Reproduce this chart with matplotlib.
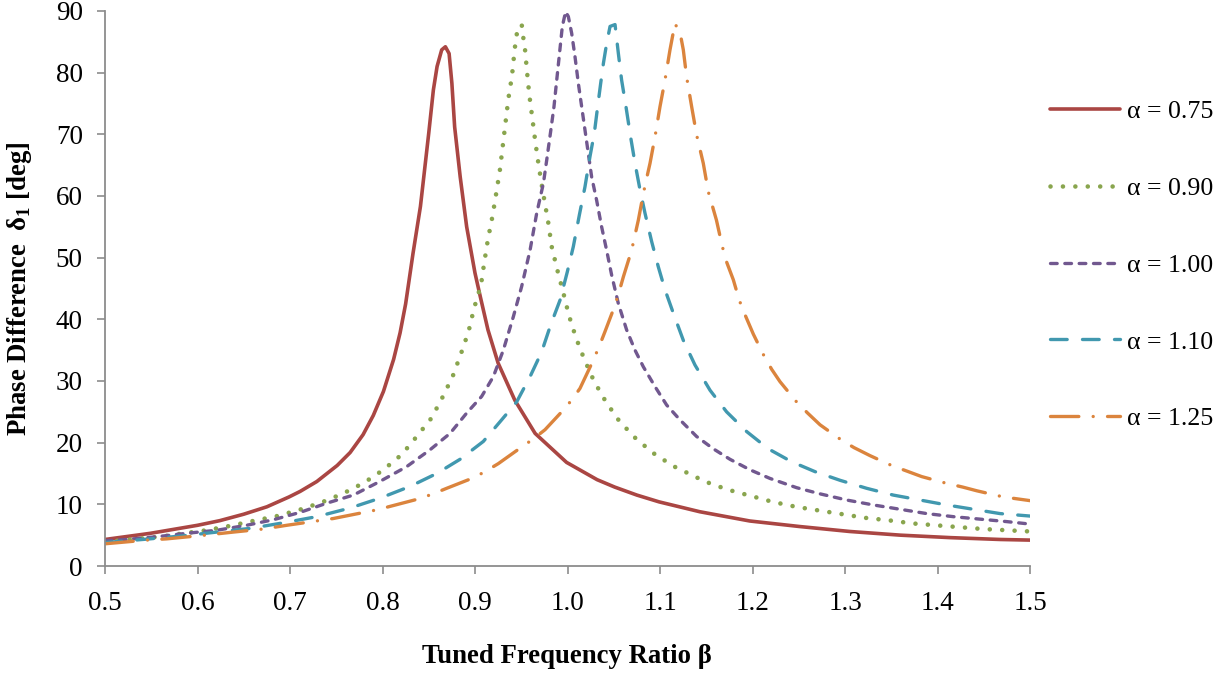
import matplotlib
matplotlib.use("Agg")
import matplotlib.pyplot as plt

# Tuned frequency ratio (beta) and phase difference (deg)
beta_075 = [0.500, 0.549, 0.600, 0.624, 0.650, 0.675, 0.699, 0.711, 0.729, 0.751,
            0.765, 0.779, 0.790, 0.801, 0.812, 0.819, 0.825, 0.833, 0.841, 0.850,
            0.855, 0.859, 0.864, 0.868, 0.872, 0.875, 0.878, 0.884, 0.891, 0.900,
            0.906, 0.914, 0.925, 0.943, 0.965, 0.999, 1.032, 1.051, 1.075, 1.099,
            1.143, 1.197, 1.251, 1.305, 1.360, 1.414, 1.468, 1.500]
delta_075 = [4.3, 5.3, 6.6, 7.35, 8.4, 9.6, 11.2, 12.1, 13.7, 16.3,
             18.4, 21.3, 24.4, 28.3, 33.5, 37.8, 42.5, 50.7, 58.3, 70.2,
             77.2, 81.0, 83.7, 84.2, 83.1, 78.3, 71.2, 63.1, 55.0, 47.5,
             43.5, 38.3, 32.9, 26.9, 21.5, 16.8, 14.0, 12.8, 11.5, 10.4,
             8.8, 7.3, 6.4, 5.6, 5.0, 4.6, 4.3, 4.2]

beta_090 = [0.500, 0.534, 0.560, 0.585, 0.610, 0.635, 0.660, 0.686, 0.710, 0.734,
            0.758, 0.780, 0.801, 0.821, 0.837, 0.853, 0.865, 0.876, 0.885, 0.893,
            0.899, 0.9065, 0.910, 0.914, 0.919, 0.923, 0.927, 0.930, 0.933, 0.936,
            0.940, 0.9425, 0.944, 0.946, 0.9505, 0.952, 0.954, 0.9562, 0.9587, 0.962,
            0.9652, 0.9688, 0.9728, 0.9793, 0.9829, 0.989, 0.9955, 1.0016, 1.0092, 1.0182,
            1.0286, 1.0416, 1.056, 1.0737, 1.0928, 1.1144, 1.1378, 1.1486, 1.1728, 1.1973,
            1.2218, 1.247, 1.2719, 1.2971, 1.3223, 1.3476, 1.3732, 1.3984, 1.4236, 1.4488,
            1.4748, 1.500]
delta_090 = [3.9, 4.4, 4.75, 5.3, 5.8, 6.5, 7.3, 8.1, 9.1, 10.3,
             11.8, 13.5, 15.6, 18.1, 21.0, 24.0, 27.4, 30.8, 34.5, 38.0,
             41.8, 45.6, 49.2, 53.0, 56.8, 60.5, 64.3, 68.1, 71.9, 75.7,
             79.5, 83.2, 85.2, 87.0, 87.8, 85.9, 83.9, 80.2, 76.4, 72.6,
             68.8, 65.0, 61.2, 55.6, 51.8, 48.0, 44.3, 40.6, 37.0, 33.5,
             30.0, 26.6, 23.5, 20.7, 18.3, 16.2, 14.5, 13.7, 12.4, 11.4,
             10.4, 9.6, 9.0, 8.4, 7.8, 7.4, 6.9, 6.6, 6.3, 6.0,
             5.8, 5.6]

beta_100 = [0.500, 0.5235, 0.556, 0.588, 0.621, 0.653, 0.682, 0.711, 0.740, 0.7685,
            0.797, 0.826, 0.851, 0.873, 0.891, 0.9072, 0.9198, 0.9306, 0.9414, 0.9504,
            0.9595, 0.9667, 0.974, 0.9775, 0.982, 0.9854, 0.988, 0.991, 0.9944, 0.998,
            1.0009, 1.0045, 1.0081, 1.0117, 1.0153, 1.0189, 1.0225, 1.0261, 1.0315, 1.0369,
            1.0423, 1.0477, 1.0549, 1.0639, 1.0730, 1.0820, 1.0946, 1.1072, 1.1216, 1.1396,
            1.1577, 1.1757, 1.1973, 1.2189, 1.2477, 1.273, 1.3018, 1.3306, 1.3595, 1.3883,
            1.4171, 1.4459, 1.4748, 1.500]
delta_100 = [4.1, 4.3, 4.75, 5.3, 5.8, 6.6, 7.5, 8.7, 10.2, 11.5,
             13.7, 16.1, 18.8, 21.5, 24.8, 27.5, 30.7, 35.0, 40.4, 45.3,
             51.2, 57.2, 62.1, 65.8, 70.7, 74.5, 78.3, 82.6, 87.5, 89.9,
             89.1, 86.4, 82.6, 78.3, 74.5, 70.7, 66.9, 63.1, 59.3, 55.0,
             51.2, 47.2, 42.6, 38.3, 35.0, 32.3, 29.1, 26.1, 23.7, 21.0,
             19.0, 17.3, 15.6, 14.2, 12.7, 11.7, 10.7, 9.9, 9.2, 8.5,
             8.0, 7.6, 7.2, 6.8]

beta_110 = [0.500, 0.5486, 0.5847, 0.6208, 0.6568, 0.6928, 0.7289, 0.7649, 0.7973, 0.8297,
            0.8586, 0.8838, 0.909, 0.9288, 0.945, 0.9595, 0.972, 0.9818, 0.9919, 0.9998,
            1.0063, 1.0128, 1.0189, 1.0243, 1.029, 1.0326, 1.0359, 1.0388, 1.0424, 1.046,
            1.0514, 1.055, 1.0585, 1.0632, 1.0682, 1.073, 1.0784, 1.0838, 1.0910, 1.0982,
            1.1054, 1.1144, 1.1252, 1.1378, 1.1541, 1.172, 1.1937, 1.2171, 1.2424, 1.2676,
            1.2946, 1.3234, 1.3522, 1.3811, 1.4099, 1.4387, 1.4676, 1.500]
delta_110 = [3.8, 4.4, 4.9, 5.5, 6.1, 7.0, 8.0, 9.4, 11.0, 12.9,
             15.0, 17.3, 20.2, 23.7, 26.6, 30.7, 34.7, 39.1, 43.1, 47.7,
             51.8, 56.9, 61.5, 66.4, 70.2, 74.5, 78.3, 81.5, 84.8, 87.5,
             87.8, 83.1, 78.8, 74.5, 69.6, 65.3, 61.0, 57.2, 52.6, 48.5,
             44.8, 41.0, 36.6, 32.6, 28.5, 25.0, 21.8, 19.0, 16.9, 15.3,
             13.9, 12.6, 11.5, 10.7, 9.9, 9.2, 8.5, 8.1]

beta_125 = [0.500, 0.545, 0.5667, 0.6081, 0.6387, 0.6712, 0.6964, 0.7468, 0.7937, 0.837,
            0.853, 0.8694, 0.8982, 0.9108, 0.9252, 0.9486, 0.963, 0.9757, 0.9937, 1.0045,
            1.0135, 1.0261, 1.034, 1.0405, 1.0514, 1.0557, 1.0604, 1.0693, 1.0766, 1.082,
            1.0856, 1.0892, 1.0946, 1.1, 1.1054, 1.1108, 1.1162, 1.1222, 1.1252, 1.1288,
            1.1342, 1.1396, 1.1468, 1.1522, 1.161, 1.1674, 1.172, 1.1793, 1.1857, 1.1926,
            1.2009, 1.2117, 1.2207, 1.2297, 1.2477, 1.2596, 1.273, 1.2964, 1.3097, 1.327,
            1.3504, 1.3667, 1.3829, 1.4099, 1.4272, 1.4424, 1.4712, 1.500]
delta_125 = [3.6, 4.2, 4.4, 5.0, 5.5, 6.0, 6.6, 7.7, 9.1, 10.8,
             11.6, 12.6, 14.3, 15.3, 16.6, 19.1, 20.6, 22.1, 25.0, 26.9,
             28.8, 32.8, 35.5, 38.0, 42.3, 44.4, 46.9, 51.2, 56.1, 60.4,
             62.9, 65.3, 69.6, 74.5, 78.8, 83.7, 88.0, 86.1, 83.7, 79.3,
             74.5, 69.9, 65.3, 60.7, 56.1, 51.8, 49.3, 46.4, 43.1, 40.5,
             37.6, 34.3, 31.9, 29.9, 26.6, 24.8, 22.9, 20.4, 19.2, 17.9,
             16.3, 15.4, 14.5, 13.4, 12.8, 12.2, 11.2, 10.6]

labels = ["α = 0.75", "α = 0.90", "α = 1.00", "α = 1.10", "α = 1.25"]
x_ticks = [0.5, 0.6, 0.7, 0.8, 0.9, 1.0, 1.1, 1.2, 1.3, 1.4, 1.5]
y_ticks = [0, 10, 20, 30, 40, 50, 60, 70, 80, 90]

# styles
RED, GREEN, PURPLE, TEAL, ORANGE = "#AA4643", "#89A54E", "#71588F", "#4198AF", "#DB843D"
AXIS_GREY = "#8C8C8C"

plt.rcParams["font.family"] = ["Liberation Serif", "DejaVu Serif"]
plt.rcParams["mathtext.fontset"] = "custom"
plt.rcParams["mathtext.rm"] = "Liberation Serif"
plt.rcParams["mathtext.bf"] = "Liberation Serif:bold"

fig = plt.figure(figsize=(12.26, 6.76), dpi=100)
ax = fig.add_axes([105 / 1226, 1 - 566 / 676, 925 / 1226, 555 / 676])

ax.plot(beta_075, delta_075, color=RED, lw=2.6, solid_capstyle="round",
        solid_joinstyle="round", label=labels[0])
ax.plot(beta_090, delta_090, color=GREEN, lw=3.3, ls=(0, (0.01, 2.7)),
        dash_capstyle="round", label=labels[1])
ax.plot(beta_100, delta_100, color=PURPLE, lw=2.4, ls=(0, (2.0, 2.3)),
        dash_capstyle="round", label=labels[2])
ax.plot(beta_110, delta_110, color=TEAL, lw=2.4, ls=(0, (5.0, 4.6)),
        dash_capstyle="round", label=labels[3])
ax.plot(beta_125, delta_125, color=ORANGE, lw=2.4, ls=(0, (8.5, 4.3, 0.01, 4.3)),
        dash_capstyle="round", label=labels[4])

ax.set_xlim(0.5, 1.5)
ax.set_ylim(0, 90)
ax.set_xticks(x_ticks)
ax.set_xticklabels([f"{v:.1f}" for v in x_ticks])
ax.set_yticks(y_ticks)
ax.tick_params(axis="both", direction="out", length=6, width=1.2, color=AXIS_GREY,
               labelsize=19.5, labelcolor="black")
ax.tick_params(axis="y", pad=10)
ax.tick_params(axis="x", pad=12)

for side in ("top", "right"):
    ax.spines[side].set_visible(False)
for side in ("left", "bottom"):
    ax.spines[side].set_color(AXIS_GREY)
    ax.spines[side].set_linewidth(1.3)

ax.set_xlabel("Tuned Frequency Ratio β", fontsize=19.3, fontweight="bold")
ax.set_ylabel(r"Phase Difference  δ$_\mathbf{1}$ [deg]", fontsize=19.3, fontweight="bold")
ax.xaxis.set_label_coords(0.4995, -0.141)
ax.yaxis.set_label_coords(-0.077, 0.5)

fig.legend(loc="upper left", bbox_to_anchor=(1050 / 1226, 1 - 100 / 676),
           frameon=False, fontsize=18.6, handlelength=2.7, handletextpad=0.27,
           labelspacing=2.08, borderaxespad=0, borderpad=0)

fig.savefig("out.png", dpi=100)
